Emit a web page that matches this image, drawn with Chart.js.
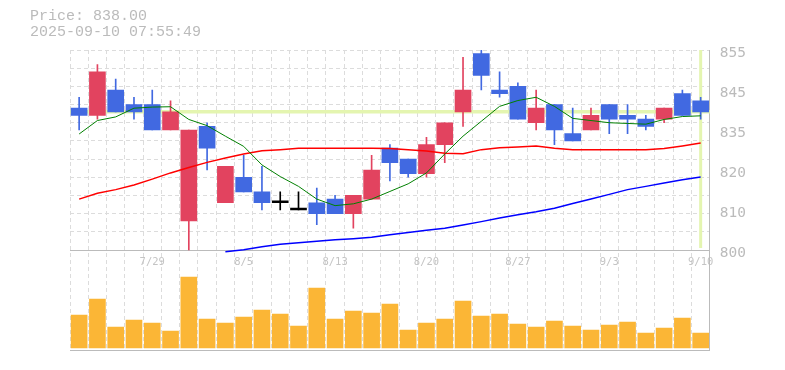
<!DOCTYPE html>
<html>
<head>
<meta charset="utf-8">
<script src="https://cdn.jsdelivr.net/npm/chart.js@4"></script>
<style>
    body { margin: 0; background: #fff; }
    #wrap { position: relative; width: 785px; height: 370px; }
    #info {
        position: absolute;
        left: 30px;
        top: 9px;
        font: 15px/16px 'Liberation Mono', monospace;
        color: #bbb;
        white-space: pre;
    }
</style>
</head>
<body>
<div id="wrap">
    <canvas id="chart" width="785" height="370"></canvas>
    <div id="info"></div>
</div>
<script>
const dates = ['7/23', '7/24', '7/25', '7/28', '7/29', '7/30', '7/31', '8/1', '8/4', '8/5',
    '8/6', '8/7', '8/8', '8/12', '8/13', '8/14', '8/15', '8/18', '8/19', '8/20',
    '8/21', '8/22', '8/25', '8/26', '8/27', '8/28', '8/29', '9/1', '9/2', '9/3',
    '9/4', '9/5', '9/8', '9/9', '9/10'];
const dateTicks = ['7/29', '8/5', '8/13', '8/20', '8/27', '9/3', '9/10'];

const opens = [839, 837, 844, 840, 840, 833, 808, 834, 813, 820,
    816, 813, 811, 813, 814, 810, 814, 828, 825, 821,
    829, 838, 854, 844, 845, 835, 840, 832, 833, 840,
    837, 836, 836, 843, 841];
const highs = [842, 851, 847, 842, 844, 841, 833, 835, 823, 826,
    823, 816, 816, 817, 815, 815, 826, 829, 825, 831,
    835, 853, 855, 849, 846, 844, 840, 839, 839, 840,
    840, 837, 839, 844, 842];
const lows = [833, 836, 838, 836, 833, 833, 800, 822, 813, 816,
    811, 811, 811, 807, 810, 806, 814, 819, 820, 820,
    824, 834, 844, 842, 836, 833, 829, 830, 833, 832,
    832, 833, 835, 837, 836];
const closes = [837, 849, 838, 838, 833, 838, 833, 828, 823, 816,
    813, 813, 811, 810, 810, 815, 822, 824, 821, 829,
    835, 844, 848, 843, 836, 839, 833, 830, 837, 836,
    836, 834, 839, 837, 838];

// thousand shares
const volumes = [330, 490, 210, 280, 250, 170, 710, 290, 250, 310,
    380, 340, 220, 600, 290, 370, 350, 440, 180, 250,
    290, 470, 320, 340, 240, 210, 270, 220, 180, 230,
    260, 150, 200, 300, 150];

const ma5 = [831.9, 835.6, 836.6, 839.0, 839.3, 839.4, 835.9, 834.2, 831.3, 828.5,
    823.4, 820.2, 817.5, 814.0, 812.2, 812.7, 814.0, 816.1, 818.2, 821.2,
    826.4, 831.3, 835.4, 839.5, 841.1, 842.0, 839.5, 836.2, 835.6, 835.0,
    834.8, 834.6, 835.9, 836.7, 836.9];
const ma25 = [814.0, 815.6, 816.6, 817.9, 819.5, 821.2, 822.7, 824.1, 825.3, 826.4,
    827.3, 827.6, 828.0, 828.0, 828.0, 828.0, 828.0, 827.9, 827.6, 827.2,
    826.6, 826.5, 827.6, 828.1, 828.3, 828.6, 828.0, 827.6, 827.6, 827.6,
    827.6, 827.6, 827.9, 828.6, 829.4];
const ma75 = [null, null, null, null, null, null, null, null, 799.5, 800.1,
    800.9, 801.6, 802.0, 802.4, 802.8, 803.1, 803.5, 804.2, 804.8, 805.4,
    806.0, 806.9, 807.8, 808.8, 809.7, 810.5, 811.5, 812.8, 814.0, 815.3,
    816.6, 817.5, 818.4, 819.3, 820.1];

const priceTicks = [800, 811, 822, 833, 844, 855];
const priceTickLabels = ['800', '810', '820', '835', '845', '855'];

const UP = '#e2435f';
const DOWN = '#4169e1';
const GRID = '#dcdcdc';
const AXIS = '#bbb';
const MARK = '#e4f5b0';

const lastPrice = closes[closes.length - 1];
document.getElementById('info').textContent =
    'Price: ' + lastPrice.toFixed(2) + '\n2025-09-10 07:55:49';

const candleColors = closes.map((c, i) => (c > opens[i] ? UP : c < opens[i] ? DOWN : '#000'));

// current price line + today's marker, under the candles
const priceMarks = {
    id: 'priceMarks',
    beforeDatasetsDraw(chart) {
        const { ctx, chartArea, scales } = chart;
        const y = scales.y.getPixelForValue(lastPrice);
        const x = scales.x.getPixelForValue(dates.length - 1);
        ctx.save();
        ctx.strokeStyle = MARK;
        ctx.lineWidth = 3.5;
        ctx.beginPath();
        ctx.moveTo(chartArea.left, y);
        ctx.lineTo(chartArea.right, y);
        ctx.stroke();
        ctx.lineWidth = 3;
        ctx.beginPath();
        ctx.moveTo(x, chartArea.top);
        ctx.lineTo(x, scales.y.getPixelForValue(priceTicks[0]) - 2);
        ctx.stroke();
        ctx.restore();
    },
};

Chart.defaults.font.family = "'DejaVu Sans Mono', monospace";

const priceMin = 772.5; // leaves the lower third of the plot for volume
const priceMax = 855;

new Chart(document.getElementById('chart'), {
    type: 'bar',
    data: {
        labels: dates,
        datasets: [
            { type: 'line', data: ma5, borderColor: '#008000', borderWidth: 1, pointRadius: 0, yAxisID: 'y', order: 0 },
            { type: 'line', data: ma25, borderColor: '#ff0000', borderWidth: 1.5, pointRadius: 0, yAxisID: 'y', order: 0 },
            { type: 'line', data: ma75, borderColor: '#0000ff', borderWidth: 1.5, pointRadius: 0, yAxisID: 'y', order: 0 },
            {
                data: opens.map((o, i) => [o, closes[i]]),
                backgroundColor: candleColors,
                barThickness: 16,
                minBarLength: 2,
                grouped: false,
                yAxisID: 'y',
                order: 1,
            },
            {
                data: lows.map((l, i) => [l, highs[i]]),
                backgroundColor: candleColors,
                barThickness: 1,
                grouped: false,
                yAxisID: 'y',
                order: 2,
            },
            {
                data: volumes,
                backgroundColor: '#fbb636',
                barThickness: 16,
                grouped: false,
                yAxisID: 'yv',
                order: 3,
            },
        ],
    },
    options: {
        responsive: false,
        animation: false,
        layout: { padding: { left: 70, top: 50, right: 29, bottom: 20 } },
        plugins: {
            legend: { display: false },
            tooltip: { enabled: false },
        },
        scales: {
            x: {
                type: 'category',
                position: { y: priceTicks[0] },
                offset: true,
                grid: { offset: true, color: GRID, drawTicks: false },
                border: { color: AXIS, dash: [4, 3] },
                ticks: {
                    autoSkip: false,
                    maxRotation: 0,
                    padding: 6,
                    color: '#c4c4c4',
                    font: { size: 10.5 },
                    callback: (value, index) => (dateTicks.includes(dates[index]) ? dates[index] : ''),
                },
            },
            x2: {
                type: 'category',
                position: 'bottom',
                offset: true,
                grid: { display: false, drawTicks: false },
                border: { color: AXIS },
                ticks: { display: false },
            },
            y: {
                position: 'right',
                min: priceMin,
                max: priceMax,
                afterBuildTicks: (axis) => {
                    axis.ticks = axis.ticks.filter((t) => t.value >= priceTicks[0] && t.value % 5 === 0);
                },
                ticks: { stepSize: 5, display: false },
                grid: {
                    drawTicks: false,
                    color: (ctx) => (ctx.tick && ctx.tick.value === priceTicks[0] ? 'rgba(0,0,0,0)' : GRID),
                },
                border: { color: AXIS, dash: [4, 3] },
            },
            yTicks: {
                position: 'right',
                min: priceMin,
                max: priceMax,
                afterBuildTicks: (axis) => {
                    axis.ticks = priceTicks.map((value) => ({ value }));
                },
                grid: { display: false, drawTicks: false },
                border: { display: false },
                ticks: {
                    padding: 10,
                    labelOffset: 3,
                    color: AXIS,
                    font: { size: 14.5 },
                    callback: (value) => priceTickLabels[priceTicks.indexOf(value)],
                },
            },
            yv: {
                display: false,
                min: -20,
                max: 2980,
            },
        },
    },
    plugins: [priceMarks],
});
</script>
</body>
</html>
